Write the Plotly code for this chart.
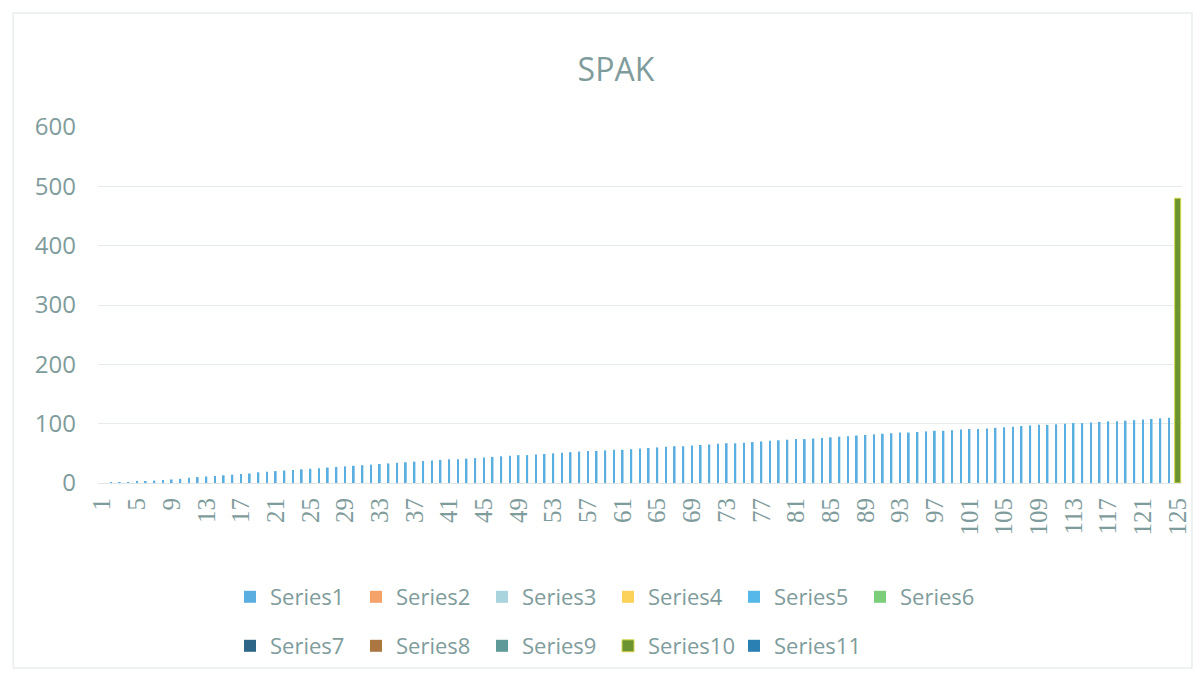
import plotly.graph_objects as go

categories = [str(i) for i in range(1, 126)]

series1_values = [
    0, 0.5, 1, 1, 2, 3, 4, 5, 6, 7, 9, 10, 11, 12, 13, 14, 15, 16, 18, 19,
    20, 21, 22, 23, 24, 25, 26, 27, 28, 29, 30, 31, 32, 33, 34, 35, 36, 37, 38, 39,
    40, 40, 41, 42, 43, 44, 45, 46, 47, 47, 48, 49, 50, 51, 52, 53, 54, 54, 55, 56,
    56, 57, 58, 59, 60, 61, 62, 62, 63, 64, 65, 66, 67, 67, 68, 69, 70, 71, 72, 73,
    74, 74, 75, 76, 77, 78, 79, 80, 81, 82, 83, 84, 85, 85, 86, 87, 88, 88, 89, 90,
    91, 91, 92, 93, 94, 95, 96, 97, 98, 98, 99, 100, 101, 101, 102, 103, 104, 104, 105, 106,
    107, 108, 109, 110, None,
]
series10_values = [None] * 124 + [480]

series_names = [f"Series{i}" for i in range(1, 12)]
series_colors = ["#5aafe0", "#f5a26a", "#a9d4de", "#fcd25a", "#55b8e8", "#7ccf7a",
                 "#2d6587", "#a9773f", "#5f9a98", "#8ea832", "#2a7fb3"]
empty_values = [None] * 125

y_ticks = [0, 100, 200, 300, 400, 500, 600]
x_tick_labels = categories[::4]

fig = go.Figure()
for i, name in enumerate(series_names):
    if name == "Series1":
        vals, w = series1_values, 0.2
    elif name == "Series10":
        vals, w = series10_values, 0.7
    else:
        vals, w = empty_values, 0.25
    fig.add_trace(go.Bar(
        x=categories, y=vals, name=name, width=w,
        marker=dict(color=("#6b9430" if name == "Series10" else series_colors[i]),
                    line=dict(color="#d9d84c" if name == "Series10" else series_colors[i],
                              width=1 if name == "Series10" else 0)),
        legend="legend" if i < 6 else "legend2",
    ))

label_color = "#7f9c9c"
legend_font = dict(family="Open Sans", size=22, color=label_color)
fig.update_layout(
    width=1203, height=679,
    margin=dict(l=98, r=17, t=127, b=196),
    paper_bgcolor="white", plot_bgcolor="white",
    barmode="overlay",
    font=dict(family="Open Sans", color=label_color),
    title=dict(text="SPAK", x=0.512, xref="container", xanchor="center",
               y=1 - 70 / 679, yref="container", yanchor="middle",
               font=dict(family="Open Sans", size=32, color=label_color)),
    xaxis=dict(type="category", range=[-0.5, 124.5], tickmode="array",
               tickvals=x_tick_labels, ticktext=x_tick_labels, tickangle=-90,
               showgrid=False, showline=True, linecolor="#e0e6e6", linewidth=1,
               ticks="", ticklabelstandoff=4,
               tickfont=dict(family="Liberation Serif", size=25, color=label_color)),
    yaxis=dict(range=[0, 600], tickmode="array", tickvals=y_ticks,
               showgrid=True, gridcolor="#e6ebeb", gridwidth=1, zeroline=False,
               ticks="", ticklabelstandoff=21,
               tickfont=dict(family="Open Sans", size=24, color=label_color)),
    legend=dict(orientation="h", x=230 / 1203, xref="container", xanchor="left",
                y=1 - 597 / 679, yref="container", yanchor="middle",
                entrywidth=81, entrywidthmode="pixels", itemwidth=30,
                font=legend_font),
    legend2=dict(orientation="h", x=230 / 1203, xref="container", xanchor="left",
                 y=1 - 646 / 679, yref="container", yanchor="middle",
                 entrywidth=81, entrywidthmode="pixels", itemwidth=30,
                 font=legend_font),
    shapes=[dict(type="rect", xref="paper", yref="paper",
                 x0=(13 - 98) / 1088, x1=(1196 - 98) / 1088,
                 y0=-(668 - 483) / 356, y1=(483 - 13) / 356,
                 line=dict(color="#e8eded", width=1.5), layer="below")],
)

fig.write_html("out.html", config={"displayModeBar": False},
               post_script="document.body.style.margin='0';")
